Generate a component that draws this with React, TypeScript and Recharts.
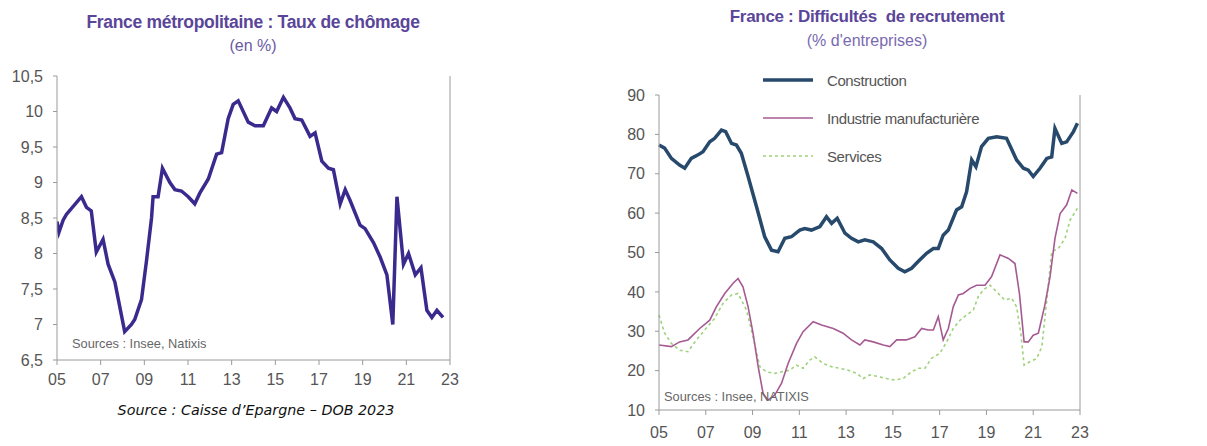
import React from 'react';
import { LineChart, Line, XAxis, YAxis } from 'recharts';

// Taux de chômage, France métropolitaine (%)
const chomageDates = [
  2005.0, 2005.09, 2005.28, 2005.43, 2006.12, 2006.35, 2006.57, 2006.8, 2007.11, 2007.34,
  2007.65, 2008.1, 2008.41, 2008.56, 2008.87, 2009.1, 2009.33, 2009.4, 2009.63, 2009.83,
  2010.17, 2010.4, 2010.7, 2011.01, 2011.31, 2011.54, 2011.93, 2012.31, 2012.54, 2012.84,
  2013.07, 2013.3, 2013.76, 2014.07, 2014.45, 2014.83, 2015.06, 2015.37, 2015.67, 2015.9,
  2016.21, 2016.59, 2016.82, 2017.13, 2017.43, 2017.66, 2017.97, 2018.2, 2018.42, 2018.88,
  2019.11, 2019.5, 2019.8, 2020.11, 2020.38, 2020.57, 2020.87, 2021.1, 2021.41, 2021.67,
  2021.94, 2022.17, 2022.4, 2022.68,
];
const chomageValues = [
  8.45, 8.3, 8.47, 8.55, 8.8, 8.65, 8.6, 8.02, 8.2, 7.85,
  7.6, 6.9, 7.0, 7.07, 7.35, 7.9, 8.5, 8.8, 8.8, 9.2,
  9.0, 8.9, 8.88, 8.8, 8.7, 8.85, 9.05, 9.4, 9.42, 9.9,
  10.1, 10.15, 9.85, 9.8, 9.8, 10.05, 10.0, 10.2, 10.05, 9.9,
  9.88, 9.65, 9.7, 9.3, 9.2, 9.18, 8.7, 8.9, 8.75, 8.4,
  8.35, 8.15, 7.95, 7.7, 7.0, 8.8, 7.85, 8.0, 7.7, 7.8,
  7.2, 7.1, 7.2, 7.1,
];

// Difficultés de recrutement (% d'entreprises)
const constructionDates = [
  2005.0, 2005.24, 2005.53, 2005.88, 2006.1, 2006.38, 2006.67, 2006.88, 2007.17, 2007.38,
  2007.67, 2007.85, 2008.1, 2008.31, 2008.52, 2008.81, 2009.17, 2009.52, 2009.81, 2010.09,
  2010.38, 2010.66, 2011.02, 2011.23, 2011.52, 2011.88, 2012.16, 2012.38, 2012.62, 2012.95,
  2013.23, 2013.52, 2013.8, 2014.16, 2014.52, 2014.87, 2015.23, 2015.51, 2015.8, 2016.08,
  2016.44, 2016.73, 2016.94, 2017.15, 2017.37, 2017.72, 2017.94, 2018.15, 2018.37, 2018.55,
  2018.79, 2019.08, 2019.44, 2019.86, 2020.29, 2020.58, 2020.79, 2021.0, 2021.29, 2021.58,
  2021.79, 2021.93, 2022.22, 2022.43, 2022.72, 2022.89,
];
const constructionValues = [
  77.3, 76.5, 73.9, 72.2, 71.4, 73.9, 74.8, 75.6, 78.1, 79.0,
  81.1, 80.7, 77.7, 77.3, 75.2, 69.3, 61.6, 54.0, 50.6, 50.2,
  53.6, 54.0, 55.7, 56.1, 55.7, 56.6, 59.1, 57.4, 58.7, 54.9,
  53.6, 52.7, 53.2, 52.7, 51.0, 48.1, 46.0, 45.1, 46.0, 47.7,
  49.8, 51.0, 51.0, 54.4, 55.7, 60.8, 61.6, 65.4, 73.5, 71.8,
  76.9, 79.0, 79.4, 79.0, 73.5, 71.4, 70.9, 69.3, 71.4, 73.9,
  74.3, 81.5, 77.7, 78.1, 80.7, 82.8,
];

const industrieDates = [
  2005.0, 2005.53, 2005.88, 2006.24, 2006.74, 2007.17, 2007.45, 2007.81, 2008.17, 2008.38,
  2008.59, 2008.81, 2009.02, 2009.24, 2009.45, 2009.66, 2009.95, 2010.24, 2010.52, 2010.88,
  2011.16, 2011.59, 2011.95, 2012.45, 2012.87, 2013.23, 2013.59, 2013.8, 2014.16, 2014.59,
  2014.87, 2015.16, 2015.58, 2015.94, 2016.23, 2016.51, 2016.73, 2016.94, 2017.15, 2017.37,
  2017.58, 2017.8, 2018.01, 2018.3, 2018.58, 2018.94, 2019.22, 2019.58, 2019.94, 2020.22,
  2020.41, 2020.61, 2020.79, 2021.0, 2021.22, 2021.5, 2021.72, 2021.93, 2022.15, 2022.43,
  2022.65, 2022.89,
];
const industrieValues = [
  26.5, 26.1, 27.3, 27.8, 30.7, 32.8, 36.2, 39.6, 42.2, 43.4,
  41.3, 36.2, 29.5, 21.0, 14.2, 12.5, 13.8, 16.8, 21.8, 26.9,
  29.9, 32.4, 31.6, 30.7, 29.5, 27.8, 26.5, 27.8, 27.3, 26.5,
  26.1, 27.8, 27.8, 28.6, 30.7, 30.3, 30.3, 33.7, 27.8, 30.7,
  36.2, 39.2, 39.6, 40.9, 41.7, 41.7, 43.9, 49.4, 48.5, 47.2,
  39.6, 27.3, 27.3, 29.0, 29.5, 36.7, 43.9, 53.6, 59.9, 62.1,
  65.9, 65.0,
];

const servicesDates = [
  2005.0, 2005.24, 2005.53, 2005.88, 2006.24, 2006.6, 2006.95, 2007.38, 2007.74, 2008.1,
  2008.38, 2008.74, 2009.02, 2009.31, 2009.59, 2009.95, 2010.24, 2010.59, 2010.88, 2011.16,
  2011.45, 2011.66, 2012.02, 2012.38, 2012.73, 2013.09, 2013.45, 2013.73, 2014.02, 2014.37,
  2014.73, 2015.09, 2015.44, 2015.8, 2016.08, 2016.37, 2016.65, 2017.01, 2017.3, 2017.58,
  2017.87, 2018.15, 2018.44, 2018.65, 2018.87, 2019.15, 2019.51, 2019.79, 2020.08, 2020.29,
  2020.47, 2020.61, 2020.87, 2021.15, 2021.37, 2021.58, 2021.79, 2022.07, 2022.36, 2022.58,
  2022.89,
];
const servicesValues = [
  34.1, 29.5, 26.9, 25.2, 24.8, 27.8, 30.3, 33.3, 37.1, 39.2,
  39.6, 35.4, 28.6, 21.0, 19.7, 19.3, 19.7, 20.1, 21.4, 20.6,
  22.7, 23.5, 21.8, 21.0, 20.6, 20.1, 19.3, 18.0, 18.9, 18.5,
  18.0, 17.6, 18.0, 19.7, 20.6, 20.6, 23.1, 24.4, 27.3, 30.7,
  32.8, 34.1, 35.4, 38.8, 40.5, 41.7, 39.6, 37.9, 38.4, 36.2,
  29.5, 21.4, 22.3, 23.1, 26.1, 37.9, 50.2, 51.0, 53.6, 58.3,
  61.2,
];

const yearTicks = [2005, 2007, 2009, 2011, 2013, 2015, 2017, 2019, 2021, 2023];
const chomageTicks = [6.5, 7, 7.5, 8, 8.5, 9, 9.5, 10, 10.5];
const recrutementTicks = [10, 20, 30, 40, 50, 60, 70, 80, 90];

const legendNames = ['Construction', 'Industrie manufacturière', 'Services'];

const zip = (xs: number[], ys: number[]) => xs.map((x, i) => ({ date: x, value: ys[i] }));

const chomageData = zip(chomageDates, chomageValues);
const constructionData = zip(constructionDates, constructionValues);
const industrieData = zip(industrieDates, industrieValues);
const servicesData = zip(servicesDates, servicesValues);

const FONT = '"Liberation Sans", Arial, sans-serif';
const tickStyle = { fill: '#555', fontSize: 16, fontFamily: FONT };
const axisColor = '#9a9a9a';
const yearFmt = (v: number) => String(v % 100).padStart(2, '0');
const commaFmt = (v: number) => String(v).replace('.', ',');

const lineStyles = [
  { stroke: '#27496c', strokeWidth: 3.5, dash: undefined },
  { stroke: '#a65a92', strokeWidth: 1.6, dash: undefined },
  { stroke: '#9fd27c', strokeWidth: 1.6, dash: '3 3' },
];

const abs = (left: number, top: number, extra: React.CSSProperties = {}): React.CSSProperties => ({
  position: 'absolute',
  left,
  top,
  whiteSpace: 'nowrap',
  ...extra,
});

const App: React.FC = () => {
  return (
    <div style={{ position: 'absolute', left: 0, top: 0, width: 1207, height: 446, background: '#fff', fontFamily: FONT }}>
      {/* Chômage */}
      <div style={abs(0, 12, { width: 506, textAlign: 'center', color: '#5a4699', fontSize: 17.5, fontWeight: 'bold', letterSpacing: -0.3 })}>
        France métropolitaine : Taux de chômage
      </div>
      <div style={abs(0, 37, { width: 506, textAlign: 'center', color: '#6a5aa5', fontSize: 16 })}>(en %)</div>

      <div style={abs(0, 0)}>
        <LineChart width={520} height={400} data={chomageData} margin={{ top: 76, left: 12, right: 25, bottom: 10 }}>
          <XAxis
            dataKey="date"
            type="number"
            domain={[2005, 2023]}
            ticks={yearTicks}
            tickFormatter={yearFmt}
            tick={tickStyle}
            stroke={axisColor}
            tickSize={5}
            tickMargin={9}
            height={30}
            allowDataOverflow
          />
          <YAxis
            yAxisId="l"
            domain={[6.5, 10.5]}
            ticks={chomageTicks}
            tickFormatter={commaFmt}
            tick={tickStyle}
            stroke={axisColor}
            tickSize={4}
            tickMargin={10}
            width={45}
            interval={0}
          />
          <YAxis
            yAxisId="r"
            orientation="right"
            domain={[6.5, 10.5]}
            ticks={chomageTicks}
            tickFormatter={commaFmt}
            tick={tickStyle}
            stroke={axisColor}
            tickSize={4}
            tickMargin={10}
            width={45}
            interval={0}
          />
          <Line
            yAxisId="l"
            dataKey="value"
            stroke="#3a2a8e"
            strokeWidth={3.5}
            dot={false}
            type="linear"
            isAnimationActive={false}
          />
        </LineChart>
      </div>
      <div style={abs(72, 336, { fontSize: 12.8, color: '#666' })}>Sources : Insee, Natixis</div>
      <div style={abs(0, 402, { width: 512, textAlign: 'center', fontSize: 14.3, fontStyle: 'italic', fontFamily: '"DejaVu Sans", Verdana, sans-serif', color: '#111' })}>
        Source : Caisse d’Epargne – DOB 2023
      </div>

      {/* Difficultés de recrutement */}
      <div style={abs(600, 7, { width: 534, textAlign: 'center', color: '#5a4699', fontSize: 17, fontWeight: 'bold', letterSpacing: -0.3 })}>
        France : Difficultés&nbsp; de recrutement
      </div>
      <div style={abs(600, 32, { width: 534, textAlign: 'center', color: '#7a6ab0', fontSize: 16 })}>(% d'entreprises)</div>

      <div style={abs(600, 0)}>
        <LineChart width={607} height={446} margin={{ top: 95, left: 14, right: 82, bottom: 6 }}>
          <XAxis
            dataKey="date"
            type="number"
            domain={[2005, 2023]}
            ticks={yearTicks}
            tickFormatter={yearFmt}
            tick={tickStyle}
            stroke={axisColor}
            tickSize={5}
            tickMargin={12}
            height={30}
            allowDuplicatedCategory={false}
          />
          <YAxis
            yAxisId="l"
            domain={[10, 90]}
            ticks={recrutementTicks}
            tick={tickStyle}
            stroke={axisColor}
            tickSize={4}
            tickMargin={10}
            width={45}
            interval={0}
          />
          <YAxis
            yAxisId="r"
            orientation="right"
            domain={[10, 90]}
            ticks={recrutementTicks}
            tick={tickStyle}
            stroke={axisColor}
            tickSize={4}
            tickMargin={9}
            width={45}
            interval={0}
          />
          <Line yAxisId="l" data={servicesData} dataKey="value" name={legendNames[2]} stroke={lineStyles[2].stroke} strokeWidth={lineStyles[2].strokeWidth} strokeDasharray={lineStyles[2].dash} dot={false} isAnimationActive={false} />
          <Line yAxisId="l" data={industrieData} dataKey="value" name={legendNames[1]} stroke={lineStyles[1].stroke} strokeWidth={lineStyles[1].strokeWidth} dot={false} isAnimationActive={false} />
          <Line yAxisId="l" data={constructionData} dataKey="value" name={legendNames[0]} stroke={lineStyles[0].stroke} strokeWidth={lineStyles[0].strokeWidth} dot={false} isAnimationActive={false} />
        </LineChart>
      </div>

      {/* legend */}
      {legendNames.map((name, i) => (
        <div key={name} style={abs(763, 71 + i * 38, { display: 'flex', alignItems: 'center', fontSize: 15, color: '#555' })}>
          <svg width={52} height={18}>
            <line x1={0} y1={9} x2={50} y2={9} stroke={lineStyles[i].stroke} strokeWidth={lineStyles[i].strokeWidth} strokeDasharray={lineStyles[i].dash} />
          </svg>
          <span style={{ marginLeft: 12, letterSpacing: -0.4 }}>{name}</span>
        </div>
      ))}
      <div style={abs(664, 389, { fontSize: 12.8, color: '#666' })}>Sources : Insee, NATIXIS</div>
    </div>
  );
};

export default App;
